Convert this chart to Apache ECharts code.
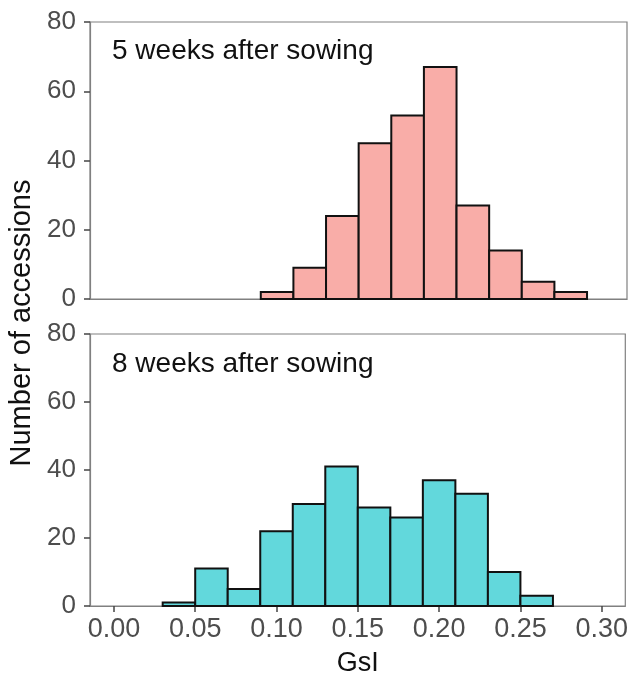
<!DOCTYPE html>
<html>
<head>
<meta charset="utf-8">
<script src="https://cdn.jsdelivr.net/npm/echarts@6/dist/echarts.min.js"></script>
<style>
  html, body { margin: 0; padding: 0; background: #fff; }
  #chart { width: 631px; height: 678px; }
</style>
</head>
<body>
<div id="chart"></div>
<script>
// histogram bins (left edge of each bin, width 0.02)
const binWidth = 0.02
const binStarts5 = [0.09, 0.11, 0.13, 0.15, 0.17, 0.19, 0.21, 0.23, 0.25, 0.27]
const counts5 = [2, 9, 24, 45, 53, 67, 27, 14, 5, 2]
const binStarts8 = [0.03, 0.05, 0.07, 0.09, 0.11, 0.13, 0.15, 0.17, 0.19, 0.21, 0.23, 0.25]
const counts8 = [1, 11, 5, 22, 30, 41, 29, 26, 37, 33, 10, 3]
const xTicks = [0, 0.05, 0.1, 0.15, 0.2, 0.25, 0.3]
const panelLabels = ['5 weeks after sowing', '8 weeks after sowing']

const font = 'Liberation Sans, Arial, sans-serif'
const frameColor = '#808080'

const chart = echarts.init(document.getElementById('chart'))

function histData(starts, counts) {
  return starts.map((s, i) => [s, counts[i]])
}

function renderBin(fill) {
  return function (params, api) {
    const x0 = api.value(0)
    const topLeft = api.coord([x0, api.value(1)])
    const bottomRight = api.coord([x0 + binWidth, 0])
    return {
      type: 'rect',
      shape: {
        x: topLeft[0],
        y: topLeft[1],
        width: bottomRight[0] - topLeft[0],
        height: bottomRight[1] - topLeft[1],
      },
      style: { fill: fill, stroke: '#111', lineWidth: 2 },
    }
  }
}

function xAxisFor(idx, showLabels) {
  return {
    type: 'value',
    gridIndex: idx,
    min: -0.0147,
    max: 0.3145,
    splitLine: { show: false },
    axisLine: { show: true, onZero: false, lineStyle: { color: frameColor, width: 1.2 } },
    axisTick: {
      show: showLabels,
      customValues: xTicks,
      length: 6,
      lineStyle: { color: '#444', width: 1.5 },
    },
    axisLabel: {
      show: showLabels,
      customValues: xTicks,
      margin: 10,
      color: '#4d4d4d',
      fontFamily: font,
      fontSize: 27,
      formatter: (v) => v.toFixed(2),
    },
  }
}

function yAxisFor(idx) {
  return {
    type: 'value',
    gridIndex: idx,
    min: 0,
    max: 80,
    interval: 20,
    splitLine: { show: false },
    axisLine: { show: true, onZero: false, lineStyle: { color: frameColor, width: 1.2 } },
    axisTick: { show: true, length: 6, lineStyle: { color: '#444', width: 1.5 } },
    axisLabel: {
      margin: 14,
      color: '#4d4d4d',
      fontFamily: font,
      fontSize: 26,
    },
  }
}

const option = {
  animation: false,
  backgroundColor: '#fff',
  grid: [
    { left: 90, top: 22, width: 537, height: 277, show: true, borderColor: frameColor, borderWidth: 1.2 },
    { left: 90, top: 334, width: 537, height: 275, show: true, borderColor: frameColor, borderWidth: 1.2 },
  ],
  xAxis: [
    xAxisFor(0, false),
    Object.assign(xAxisFor(1, true), {
      name: 'GsI',
      nameLocation: 'middle',
      nameGap: 44,
      nameTextStyle: { color: '#111', fontFamily: font, fontSize: 27 },
    }),
  ],
  yAxis: [yAxisFor(0), yAxisFor(1)],
  graphic: [
    {
      type: 'text',
      left: 112,
      top: 37,
      style: { text: panelLabels[0], fill: '#111', font: '28px ' + font },
    },
    {
      type: 'text',
      left: 112,
      top: 350,
      style: { text: panelLabels[1], fill: '#111', font: '28px ' + font },
    },
    {
      type: 'text',
      x: 22,
      y: 323,
      rotation: Math.PI / 2,
      style: {
        text: 'Number of accessions',
        fill: '#111',
        font: '29px ' + font,
        align: 'center',
        verticalAlign: 'middle',
      },
    },
  ],
  series: [
    {
      type: 'custom',
      xAxisIndex: 0,
      yAxisIndex: 0,
      renderItem: renderBin('#F9ADA8'),
      encode: { x: 0, y: 1 },
      data: histData(binStarts5, counts5),
    },
    {
      type: 'custom',
      xAxisIndex: 1,
      yAxisIndex: 1,
      renderItem: renderBin('#62D8DC'),
      encode: { x: 0, y: 1 },
      data: histData(binStarts8, counts8),
    },
  ],
}

chart.setOption(option)
</script>
</body>
</html>
